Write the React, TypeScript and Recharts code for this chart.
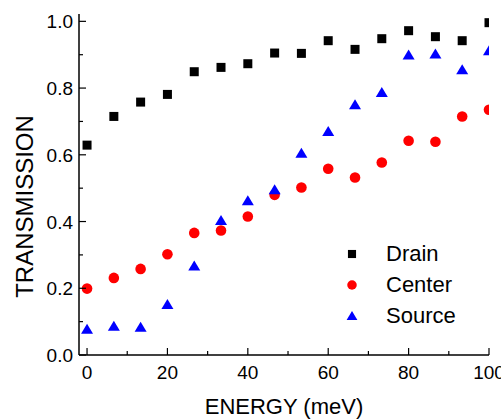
import React from 'react';
import { ScatterChart, Scatter, XAxis, YAxis, Legend, Label } from 'recharts';

const energy = [0, 6.67, 13.33, 20, 26.67, 33.33, 40, 46.67, 53.33, 60, 66.67, 73.33, 80, 86.67, 93.33, 100];
const drain = [0.629, 0.715, 0.758, 0.781, 0.849, 0.862, 0.873, 0.905, 0.904, 0.942, 0.916, 0.948, 0.972, 0.954, 0.942, 0.996];
const center = [0.199, 0.231, 0.258, 0.302, 0.366, 0.373, 0.415, 0.48, 0.502, 0.558, 0.532, 0.577, 0.642, 0.639, 0.715, 0.735];
const source = [0.077, 0.086, 0.083, 0.151, 0.267, 0.403, 0.462, 0.495, 0.605, 0.67, 0.75, 0.787, 0.899, 0.902, 0.855, 0.912];

const seriesNames = ['Drain', 'Center', 'Source'];
const seriesColors = ['#000000', '#ff0000', '#0000ff'];
const seriesShapes = ['square', 'circle', 'triangle'];

const xTicks = [0, 10, 20, 30, 40, 50, 60, 70, 80, 90, 100];
const xLabelTicks = [0, 20, 40, 60, 80, 100];
const yTicks = [0, 0.1, 0.2, 0.3, 0.4, 0.5, 0.6, 0.7, 0.8, 0.9, 1.0];
const yLabelTicks = [0, 0.2, 0.4, 0.6, 0.8, 1.0];

const FONT = '"Liberation Sans", Arial, sans-serif';

const makeData = (ys: number[]) => energy.map((x, i) => ({ x, y: ys[i] }));
const seriesData = [makeData(drain), makeData(center), makeData(source)];

const isLabel = (v: number, list: number[]) => list.some((t) => Math.abs(t - v) < 1e-6);

const Marker = ({ kind, cx, cy, color, scale = 1 }: any) => {
  if (kind === 'square') {
    const s = 9 * scale;
    return <rect x={cx - s / 2} y={cy - s / 2} width={s} height={s} fill={color} />;
  }
  if (kind === 'circle') {
    return <circle cx={cx} cy={cy} r={5.3 * scale} fill={color} />;
  }
  const w = 6 * scale;
  return (
    <polygon
      points={`${cx},${cy - 5.5 * scale} ${cx - w},${cy + 4.5 * scale} ${cx + w},${cy + 4.5 * scale}`}
      fill={color}
    />
  );
};

const BottomTick = (props: any) => {
  const { x, y, payload } = props;
  const major = isLabel(payload.value, xLabelTicks);
  return (
    <g>
      <line x1={x} y1={y} x2={x} y2={y - (major ? 7 : 4)} stroke="#000" strokeWidth={1.2} />
      {major && (
        <text x={x} y={y + 24} textAnchor="middle" fontSize={19} fontFamily={FONT} fill="#000">
          {payload.value}
        </text>
      )}
    </g>
  );
};

const TopTick = (props: any) => {
  const { x, y, payload } = props;
  const major = isLabel(payload.value, xLabelTicks);
  return <line x1={x} y1={y} x2={x} y2={y + (major ? 7 : 4)} stroke="#000" strokeWidth={1.2} />;
};

const LeftTick = (props: any) => {
  const { x, y, payload } = props;
  const major = isLabel(payload.value, yLabelTicks);
  return (
    <g>
      <line x1={x} y1={y} x2={x + (major ? 7 : 4)} y2={y} stroke="#000" strokeWidth={1.2} />
      {major && (
        <text x={x - 6} y={y + 7} textAnchor="end" fontSize={19} fontFamily={FONT} fill="#000">
          {payload.value.toFixed(1)}
        </text>
      )}
    </g>
  );
};

const RightTick = (props: any) => {
  const { x, y, payload } = props;
  const major = isLabel(payload.value, yLabelTicks);
  return <line x1={x} y1={y} x2={x - (major ? 7 : 4)} y2={y} stroke="#333" strokeWidth={1.2} />;
};

const LegendContent = () => (
  <div style={{ fontFamily: FONT, fontSize: 22, color: '#000' }}>
    {seriesNames.map((name, i) => (
      <div key={name} style={{ display: 'flex', alignItems: 'center', height: 31 }}>
        <svg width={24} height={31} style={{ display: 'block' }}>
          <Marker kind={seriesShapes[i]} cx={12} cy={16} color={seriesColors[i]} scale={0.9} />
        </svg>
        <span style={{ marginLeft: 22, lineHeight: '31px' }}>{name}</span>
      </div>
    ))}
  </div>
);

export default function App() {
  return (
    <div style={{ position: 'absolute', left: 0, top: 0, width: 501, height: 419, background: '#fff' }}>
      <ScatterChart width={501} height={419} margin={{ top: 14, right: 12, left: 0, bottom: 0 }}>
        <XAxis
          type="number"
          dataKey="x"
          xAxisId={0}
          domain={[-2, 100]}
          ticks={xTicks}
          allowDataOverflow
          height={64}
          tickSize={0}
          tickMargin={0}
          tickLine={false}
          tick={<BottomTick />}
          axisLine={{ stroke: '#000', strokeWidth: 1.5 }}
          interval={0}
        >
          <Label
            content={(p: any) => {
              const vb = p.viewBox;
              return (
                <text x={vb.x + vb.width / 2} y={vb.y + 59} textAnchor="middle" fontSize={22} fontFamily={FONT} fill="#000">
                  ENERGY (meV)
                </text>
              );
            }}
          />
        </XAxis>
        <XAxis
          type="number"
          dataKey="x"
          xAxisId="top"
          orientation="top"
          domain={[-2, 100]}
          ticks={xTicks}
          allowDataOverflow
          height={0}
          tickSize={0}
          tickMargin={0}
          tickLine={false}
          tick={<TopTick />}
          axisLine={{ stroke: '#000', strokeWidth: 1.5 }}
          interval={0}
        />
        <YAxis
          type="number"
          dataKey="y"
          yAxisId={0}
          domain={[0, 1.022]}
          ticks={yTicks}
          allowDataOverflow
          width={79}
          tickSize={0}
          tickMargin={0}
          tickLine={false}
          tick={<LeftTick />}
          axisLine={{ stroke: '#000', strokeWidth: 1.5 }}
          interval={0}
        >
          <Label
            content={(p: any) => {
              const vb = p.viewBox;
              const cx = vb.x + 24;
              const cy = vb.y + vb.height / 2 + 22;
              return (
                <text
                  x={cx}
                  y={cy}
                  transform={`rotate(-90, ${cx}, ${cy})`}
                  textAnchor="middle"
                  dominantBaseline="central"
                  fontSize={24}
                  fontFamily={FONT}
                  fill="#000"
                >
                  TRANSMISSION
                </text>
              );
            }}
          />
        </YAxis>
        <YAxis
          type="number"
          dataKey="y"
          yAxisId="right"
          orientation="right"
          domain={[0, 1.022]}
          ticks={yTicks}
          allowDataOverflow
          width={0}
          tickSize={0}
          tickMargin={0}
          tickLine={false}
          tick={<RightTick />}
          axisLine={{ stroke: '#444', strokeWidth: 2 }}
          interval={0}
        />
        <Legend
          layout="vertical"
          align="center"
          verticalAlign="middle"
          content={<LegendContent />}
          wrapperStyle={{ position: 'absolute', left: 340, top: 238, width: 160, height: 96 }}
        />
        {seriesNames.map((name, i) => (
          <Scatter
            key={name}
            name={name}
            data={seriesData[i]}
            xAxisId={0}
            yAxisId={0}
            fill={seriesColors[i]}
            isAnimationActive={false}
            shape={(p: any) => <Marker kind={seriesShapes[i]} cx={p.cx} cy={p.cy} color={seriesColors[i]} />}
          />
        ))}
      </ScatterChart>
    </div>
  );
}
